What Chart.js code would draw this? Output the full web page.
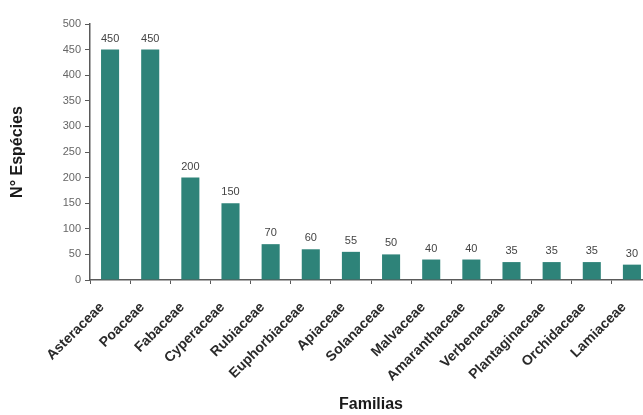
<!DOCTYPE html>
<html>
<head>
<meta charset="utf-8">
<script src="https://cdn.jsdelivr.net/npm/chart.js@4/dist/chart.umd.min.js"></script>
<style>
  html, body { margin: 0; padding: 0; background: #fff; overflow: hidden; }
  #wrap { width: 660px; height: 415px; }
</style>
</head>
<body>
<div id="wrap"><canvas id="familias-chart" width="660" height="415"></canvas></div>
<script>
const familias = [
    'Asteraceae', 'Poaceae', 'Fabaceae', 'Cyperaceae', 'Rubiaceae',
    'Euphorbiaceae', 'Apiaceae', 'Solanaceae', 'Malvaceae', 'Amaranthaceae',
    'Verbenaceae', 'Plantaginaceae', 'Orchidaceae', 'Lamiaceae'
];
const especies = [450, 450, 200, 150, 70, 60, 55, 50, 40, 40, 35, 35, 35, 30];
const yTicks = [0, 50, 100, 150, 200, 250, 300, 350, 400, 450, 500];

const axisColor = '#5a5a5a';
const barColor = '#2e8379';
const fontFamily = '"Liberation Sans", Arial, sans-serif';

// writes each bar's value just above it
const valueLabels = {
    id: 'valueLabels',
    afterDatasetsDraw(chart) {
        const ctx = chart.ctx;
        const meta = chart.getDatasetMeta(0);
        ctx.save();
        ctx.font = '11px ' + fontFamily;
        ctx.fillStyle = '#444';
        ctx.textAlign = 'center';
        ctx.textBaseline = 'alphabetic';
        meta.data.forEach((bar, i) => {
            ctx.fillText(String(chart.data.datasets[0].data[i]), bar.x, bar.y - 8);
        });
        ctx.restore();
    }
};

const ctx = document.getElementById('familias-chart').getContext('2d');
new Chart(ctx, {
    type: 'bar',
    data: {
        labels: familias,
        datasets: [{
            label: 'N° Espécies',
            data: especies,
            backgroundColor: barColor,
            borderWidth: 0,
            categoryPercentage: 1,
            barPercentage: 0.45
        }]
    },
    options: {
        responsive: false,
        animation: false,
        layout: { padding: { top: 24, right: 8, left: 0, bottom: 0 } },
        plugins: {
            legend: { display: false },
            tooltip: { enabled: false }
        },
        scales: {
            x: {
                grid: {
                    drawOnChartArea: false,
                    drawTicks: true,
                    tickLength: 4,
                    color: axisColor,
                    offset: true
                },
                border: { color: axisColor, width: 1.5 },
                ticks: {
                    autoSkip: false,
                    minRotation: 45,
                    maxRotation: 45,
                    labelOffset: -8,
                    padding: 15,
                    color: '#2a2a2a',
                    font: { family: fontFamily, size: 14, weight: 'bold' }
                },
                title: {
                    display: true,
                    text: 'Familias',
                    color: '#1a1a1a',
                    padding: { top: 4, bottom: 1 },
                    font: { family: fontFamily, size: 16, weight: 'bold' }
                },
                afterFit(scale) { scale.height = 135; }
            },
            y: {
                min: 0,
                max: 500,
                afterBuildTicks(scale) {
                    scale.ticks = yTicks.map(v => ({ value: v }));
                },
                grid: {
                    drawOnChartArea: false,
                    drawTicks: true,
                    tickLength: 5,
                    color: axisColor
                },
                border: { color: axisColor, width: 1.5 },
                ticks: {
                    padding: 4,
                    color: '#666',
                    font: { family: fontFamily, size: 11 }
                },
                title: {
                    display: true,
                    text: 'N° Espécies',
                    color: '#1a1a1a',
                    padding: { top: 8, bottom: 0 },
                    font: { family: fontFamily, size: 16, weight: 'bold' }
                },
                afterFit(scale) { scale.width = 90; }
            }
        }
    },
    plugins: [valueLabels]
});
</script>
</body>
</html>
